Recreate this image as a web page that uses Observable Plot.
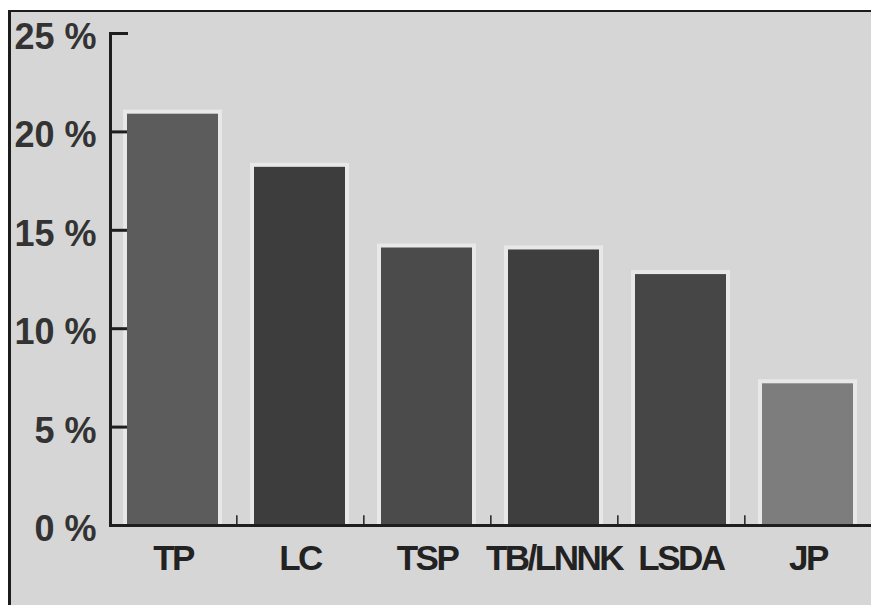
<!DOCTYPE html>
<html><head><meta charset="utf-8">
<script src="https://cdn.jsdelivr.net/npm/d3@7"></script>
<script src="https://cdn.jsdelivr.net/npm/@observablehq/plot@0.6"></script>
<style>
body{margin:0;background:#fff;width:871px;height:605px;overflow:hidden;position:relative}
#panel{position:absolute;left:8px;top:10px;width:863px;height:595px;border-left:3px solid #1c1c1c;border-top:2px solid #1c1c1c;background:#d6d6d6}
#chart{position:absolute;left:11px;top:12px}
#chart g[aria-label="x-axis tick label"] text{letter-spacing:-2.5px}
#chart g[aria-label="y-axis tick label"] text{letter-spacing:0px}
</style></head><body><div id="panel"></div><div id="chart"></div>
<script>
const parties = ["TP", "LC", "TSP", "TB/LNNK", "LSDA", "JP"];
const shares = [20.9, 18.2, 14.1, 14.0, 12.75, 7.2];
const yTicks = [0, 5, 10, 15, 20, 25];
const barColors = ["#5c5c5c", "#3d3d3d", "#4b4b4b", "#3e3e3e", "#464646", "#7d7d7d"];

const data = parties.map((p, i) => ({party: p, share: shares[i]}));

const W = 860, ML = 99, MR = 0, PI = 0.28, PO = 0.12;
const halfStep = (W - ML - MR) / (parties.length - PI + 2 * PO) / 2;
const font = "'Liberation Sans', Arial, sans-serif";

const chart = Plot.plot({
  width: W,
  height: 593,
  marginLeft: ML,
  marginRight: MR,
  marginTop: 21,
  marginBottom: 80,
  style: {background: "transparent", fontFamily: font, color: "#262626"},
  x: {domain: parties, paddingInner: PI, paddingOuter: PO, label: null},
  y: {domain: [0, 25], label: null},
  color: {domain: parties, range: barColors},
  marks: [
    Plot.barY(data, {x: "party", y: "share", fill: "#e8e8e8", insetLeft: -4, insetRight: -4, insetTop: -4}),
    Plot.axisY({ticks: yTicks, tickSize: 18, dx: 18, tickFormat: () => "", stroke: "#1e1e1e", strokeWidth: 3, label: null}),
    Plot.barY(data, {x: "party", y: "share", fill: "party"}),
    Plot.axisY({ticks: yTicks, tickSize: 0, tickPadding: 14, dy: 4, tickFormat: d => d + " %", fontSize: 36, fontWeight: "bold", fill: "#333", label: null}),
    Plot.axisX({tickSize: 0, tickPadding: 20, fontSize: 35, fontWeight: "bold", fill: "#222", label: null}),
    Plot.ruleX(parties.slice(0, -1), {x: d => d, dx: halfStep, y1: 0, y2: 0.5, stroke: "#222", strokeWidth: 1.5}),
    Plot.ruleY([0], {stroke: "#1e1e1e", strokeWidth: 3}),
    Plot.frame({anchor: "left", stroke: "#1e1e1e", strokeWidth: 3})
  ]
});
document.getElementById("chart").appendChild(chart);
</script></body></html>
